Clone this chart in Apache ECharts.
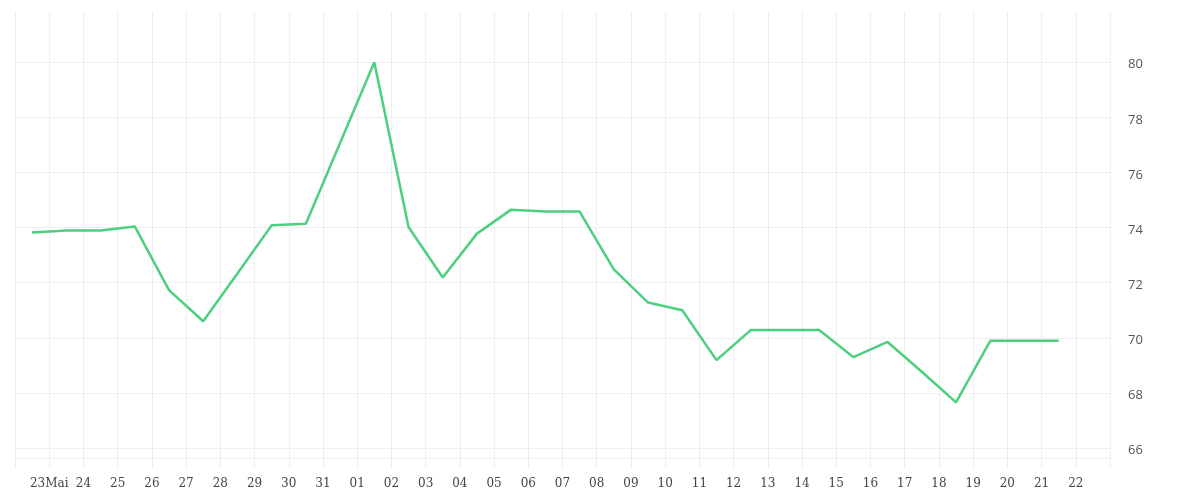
<!DOCTYPE html>
<html>
<head>
<meta charset="utf-8">
<script src="https://cdn.jsdelivr.net/npm/echarts@6/dist/echarts.min.js"></script>
<style>html,body{margin:0;padding:0;background:#fff}#c{width:1200px;height:500px}</style>
</head>
<body>
<div id="c"></div>
<script>
// tick labels placed at day boundaries (tick 1..31)
var tickLabels = ['23Mai','24','25','26','27','28','29','30','31','01','02','03','04','05','06','07','08','09','10','11','12','13','14','15','16','17','18','19','20','21','22'];
// data points sit mid-way between ticks (0.5 .. 30.5)
var pointPos = [0.5,1.5,2.5,3.5,4.5,5.5,6.5,7.5,8.5,9.5,10.5,11.5,12.5,13.5,14.5,15.5,16.5,17.5,18.5,19.5,20.5,21.5,22.5,23.5,24.5,25.5,26.5,27.5,28.5,29.5,30.5];
var values = [73.82,73.89,73.89,74.04,71.73,70.60,72.33,74.08,74.14,77.07,80.0,74.02,72.19,73.78,74.65,74.58,74.58,72.48,71.28,71.0,69.19,70.28,70.28,70.28,69.30,69.85,68.77,67.66,69.89,69.89,69.89];

var data = pointPos.map(function(p, i){ return [p, values[i]]; });

var chart = echarts.init(document.getElementById('c'), null, {renderer:'canvas'});
chart.setOption({
  animation: false,
  backgroundColor: '#fff',
  grid: {left: 15, right: 90, top: 12, bottom: 42, containLabel: false},
  xAxis: {
    type: 'value', min: 0, max: 32, interval: 1,
    axisLine: {show: true, lineStyle: {color: '#eeeeee', width: 1}},
    axisTick: {show: true, length: 10, lineStyle: {color: '#eeeeee'}},
    splitLine: {show: true, lineStyle: {color: '#eeeeee', width: 1}},
    axisLabel: {
      margin: 20, color: '#444', fontFamily: 'DejaVu Serif', fontSize: 12,
      formatter: function(v){ var i = Math.round(v); return (i >= 1 && i <= tickLabels.length) ? tickLabels[i-1] : ''; }
    }
  },
  yAxis: {
    type: 'value', position: 'right', min: 65.64, max: 81.82, splitNumber: 8,
    axisLine: {show: false}, axisTick: {show: false},
    splitLine: {show: true, showMinLine: false, showMaxLine: false, lineStyle: {color: '#eeeeee', width: 1}},
    axisLabel: {
      margin: 18, color: '#555', fontFamily: 'Open Sans', fontSize: 13, showMinLabel: false, showMaxLabel: false,
      rich: {a: {color: '#555', fontFamily: 'Open Sans', fontSize: 13, padding: [5, 0, 0, 0]}},
      formatter: function(v){ return (Math.abs(v - Math.round(v)) < 1e-6 && Math.round(v) % 2 === 0) ? '{a|' + Math.round(v) + '}' : ''; }
    }
  },
  series: [{
    type: 'line', data: data, showSymbol: false, symbol: 'none',
    lineStyle: {color: '#4cd07d', width: 2.5}, itemStyle: {color: '#4cd07d'}
  }]
});
</script>
</body>
</html>
